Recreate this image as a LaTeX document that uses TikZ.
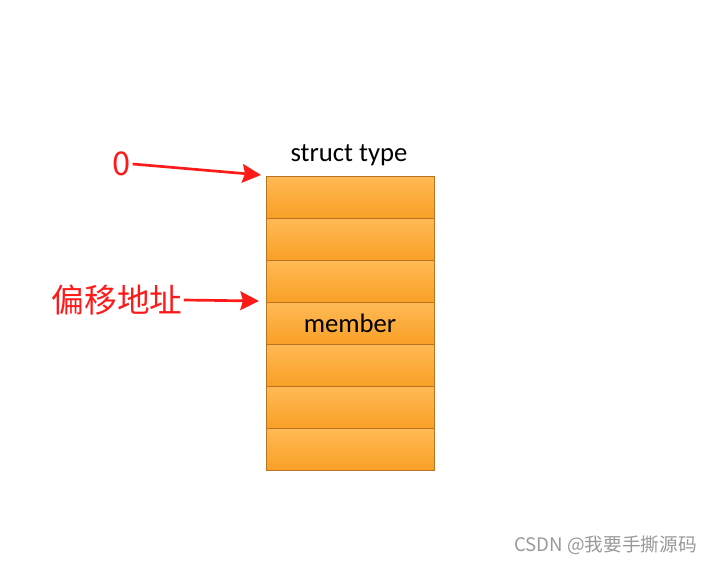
\documentclass[tikz,border=0pt]{standalone}
\usepackage{fontspec}
\usepackage{xcolor}
\usepackage{tikz}
\usetikzlibrary{arrows.meta, positioning}
\setmainfont{Carlito}
\newfontfamily\cjk{Noto Sans CJK SC}
\definecolor{boxtop}{HTML}{FFBA55}
\definecolor{boxbot}{HTML}{F9A027}
\definecolor{boxline}{HTML}{B87420}
\definecolor{markred}{HTML}{FF1A1A}
\tikzstyle{slot} = [rectangle, minimum width=126pt, minimum height=31.5pt, inner sep=0pt, text centered, draw=boxline, line width=0.6pt, top color=boxtop, bottom color=boxbot, font=\fontsize{20}{24}\selectfont]
\tikzstyle{redlabel} = [text=markred, inner sep=1pt, font=\cjk\fontsize{24.5}{28}\selectfont]
\tikzstyle{pointer} = [draw=markred, line width=2pt, -{Stealth[length=14pt, width=14pt, inset=2pt]}]

\begin{document}
\begin{tikzpicture}[x=0.75pt, y=-0.75pt, node distance=31.5pt]
        \useasboundingbox (0,0) rectangle (713,562);
        \node (s1) [slot] at (350,197) {};
        \node (s2) [slot, below of=s1] {};
        \node (s3) [slot, below of=s2] {};
        \node (s4) [slot, below of=s3] {member};
        \node (s5) [slot, below of=s4] {};
        \node (s6) [slot, below of=s5] {};
        \node (s7) [slot, below of=s6] {};
        \node (title) [font=\fontsize{20}{24}\selectfont] at (349,155) {struct type};

        \node (zero) [redlabel] at (122,164) {0};
        \node (offset) [redlabel] at (117,300) {偏移地址};
        \coordinate (head0) at (261,175);
        \coordinate (head1) at (259,301);

        \draw [pointer] (zero.east) -- (head0);
        \draw [pointer] (offset.east) -- (head1);

        \node (credit) [text=black!40, inner sep=0pt, font=\cjk\fontsize{14}{16}\selectfont, anchor=east] at (697,545) {CSDN @我要手撕源码};
    \end{tikzpicture}
\end{document}
